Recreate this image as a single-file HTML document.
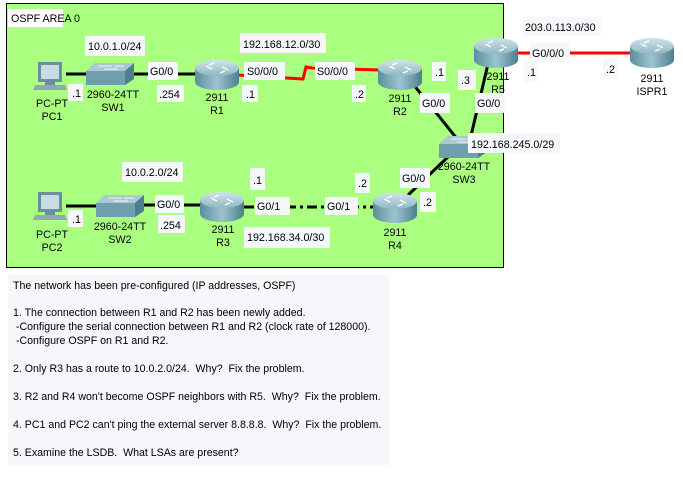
<!DOCTYPE html>
<html><head><meta charset="utf-8"><style>
html,body{margin:0;padding:0;background:#fff;width:683px;height:503px;overflow:hidden}
svg text{font-family:"Liberation Sans",Arial,sans-serif;font-size:10.7px;fill:#000}
.tb{position:absolute;left:8px;top:275px;width:381px;height:190px;background:#f6f7fb;font-family:"Liberation Sans",Arial,sans-serif;font-size:10.6px;color:#000}
.tb div{position:absolute;left:5px;white-space:nowrap}
</style></head><body>
<svg width="683" height="503" style="position:absolute;left:0;top:0">
<defs>
<linearGradient id="rb" x1="0" x2="1" y1="0" y2="0"><stop offset="0" stop-color="#5b8e9c"/><stop offset=".5" stop-color="#9cc4cf"/><stop offset="1" stop-color="#4d7f8d"/></linearGradient>
<linearGradient id="rt" x1="0" x2="0" y1="0" y2="1"><stop offset="0" stop-color="#cfe3ea"/><stop offset="1" stop-color="#8fb7c3"/></linearGradient>
<g id="rtr">
<path d="M-22,-6 L-22,8 A22,8 0 0 0 22,8 L22,-6 Z" fill="url(#rb)"/>
<ellipse cx="0" cy="-6" rx="22" ry="8" fill="url(#rt)"/>
<path d="M-11,-8 l6,3 M11,-4 l-6,-3 M-3,-11 l-5,2 M3,-1 l5,-2" stroke="#fff" stroke-width="1.3"/>
</g>
<g id="sw">
<path d="M-24,-3 L-15,-11 L24,-11 L24,5 L15,11 L-24,11 Z" fill="#6f9fae"/>
<path d="M-24,-3 L-15,-11 L24,-11 L15,-3 Z" fill="#a9c9d3"/>
<path d="M15,-3 L24,-11 L24,5 L15,11 Z" fill="#4f7f8e"/>
<path d="M-12,-8 h14 M-6,-5 h14 M4,-8 h10" stroke="#fff" stroke-width="0.8"/>
</g>
<g id="pc">
<rect x="-12" y="-16" width="24" height="20" fill="#6c8fa0"/>
<rect x="-9" y="-13" width="18" height="14" fill="#c9dce4"/>
<rect x="-5" y="4" width="10" height="3" fill="#6c8fa0"/>
<path d="M-15,7 L15,7 L17,12 L-17,12 Z" fill="#8ea9b6"/>
</g>
</defs>
<rect x="6.5" y="3.5" width="497" height="264" fill="#aaff80" stroke="#000" stroke-width="1"/>
<g stroke="#000" stroke-width="3">
<line x1="66" y1="74" x2="88" y2="74"/><line x1="133" y1="74" x2="197" y2="74"/>
<line x1="66" y1="206" x2="96" y2="206"/><line x1="143" y1="205" x2="202" y2="205"/>
<line x1="413" y1="84" x2="458" y2="140"/><line x1="488" y1="64" x2="470" y2="140"/>
<line x1="450" y1="155" x2="405" y2="198"/>
<line x1="244" y1="207" x2="374" y2="207" stroke-dasharray="10,4,3,4"/>
</g>
<polyline points="238,75 303,79 306,67 312,68 380,70" fill="none" stroke="#f00" stroke-width="3"/>
<line x1="518" y1="53" x2="631" y2="53" stroke="#f00" stroke-width="3"/>
<use href="#pc" x="50" y="78"/><use href="#pc" x="50" y="208"/>
<use href="#sw" x="110" y="74"/><use href="#sw" x="120" y="206"/><use href="#sw" x="463" y="147"/>
<use href="#rtr" x="217" y="74"/><use href="#rtr" x="400" y="74"/><use href="#rtr" x="496" y="52"/>
<use href="#rtr" x="652" y="52"/><use href="#rtr" x="222" y="206"/><use href="#rtr" x="395" y="207"/>
<g fill="#f6f7fb">
<rect x="8" y="9" width="55" height="18" fill="#fff"/>
<rect x="85" y="36" width="60" height="20"/><rect x="148" y="62" width="30" height="18"/>
<rect x="157" y="85" width="27" height="17"/><rect x="68" y="84" width="15" height="17"/>
<rect x="240" y="33" width="86" height="20"/><rect x="244" y="62" width="41" height="18"/>
<rect x="242" y="85" width="16" height="17"/><rect x="315" y="62" width="40" height="18"/>
<rect x="352" y="85" width="14" height="17"/><rect x="432" y="62" width="14" height="19"/>
<rect x="458" y="70" width="18" height="20"/><rect x="420" y="93" width="30" height="20"/>
<rect x="475" y="93" width="30" height="20"/><rect x="523" y="17" width="78" height="19"/>
<rect x="530" y="43" width="40" height="19"/><rect x="524" y="62" width="13" height="20"/>
<rect x="603" y="58" width="15" height="20"/><rect x="468" y="133" width="92" height="20"/>
<rect x="122" y="162" width="61" height="20"/><rect x="155" y="195" width="29" height="18"/>
<rect x="158" y="215" width="27" height="18"/><rect x="68" y="210" width="15" height="17"/>
<rect x="250" y="168" width="15" height="22"/><rect x="255" y="197" width="35" height="18"/>
<rect x="244" y="227" width="86" height="21"/><rect x="325" y="197" width="33" height="18"/>
<rect x="355" y="173" width="15" height="20"/><rect x="400" y="168" width="30" height="20"/>
<rect x="420" y="192" width="16" height="20"/>
</g>
<text x="11" y="22">OSPF AREA 0</text>
<text x="88" y="50">10.0.1.0/24</text><text x="150" y="75">G0/0</text><text x="159" y="98">.254</text>
<text x="72" y="97">.1</text><text x="243" y="48">192.168.12.0/30</text><text x="247" y="75">S0/0/0</text>
<text x="246" y="98">.1</text><text x="317" y="75">S0/0/0</text><text x="355" y="98">.2</text>
<text x="435" y="76">.1</text><text x="461" y="84">.3</text><text x="422" y="107">G0/0</text>
<text x="477" y="107">G0/0</text><text x="525" y="31">203.0.113.0/30</text><text x="532" y="57">G0/0/0</text>
<text x="527" y="76">.1</text><text x="606" y="73">.2</text><text x="471" y="148">192.168.245.0/29</text>
<text x="125" y="176">10.0.2.0/24</text><text x="157" y="208">G0/0</text><text x="160" y="229">.254</text>
<text x="72" y="223">.1</text><text x="253" y="184">.1</text><text x="257" y="210">G0/1</text>
<text x="247" y="241">192.168.34.0/30</text><text x="327" y="210">G0/1</text><text x="358" y="187">.2</text>
<text x="402" y="182">G0/0</text><text x="423" y="206">.2</text>
<g text-anchor="middle">
<text x="52" y="107">PC-PT</text><text x="52" y="120">PC1</text>
<text x="52" y="238">PC-PT</text><text x="52" y="251">PC2</text>
<text x="113" y="98">2960-24TT</text><text x="113" y="111">SW1</text>
<text x="120" y="230">2960-24TT</text><text x="120" y="243">SW2</text>
<text x="464" y="170">2960-24TT</text><text x="464" y="183">SW3</text>
<text x="217" y="101">2911</text><text x="217" y="114">R1</text>
<text x="400" y="102">2911</text><text x="400" y="115">R2</text>
<text x="498" y="80">2911</text><text x="498" y="93">R5</text>
<text x="652" y="82">2911</text><text x="652" y="95">ISPR1</text>
<text x="223" y="233">2911</text><text x="223" y="246">R3</text>
<text x="395" y="236">2911</text><text x="395" y="249">R4</text>
</g>
</svg>
<div class="tb">
<div style="top:5px">The network has been pre-configured (IP addresses, OSPF)</div>
<div style="top:32px">1. The connection between R1 and R2 has been newly added.</div>
<div style="top:46px">&nbsp;-Configure the serial connection between R1 and R2 (clock rate of 128000).</div>
<div style="top:60px">&nbsp;-Configure OSPF on R1 and R2.</div>
<div style="top:88px">2. Only R3 has a route to 10.0.2.0/24.&nbsp; Why?&nbsp; Fix the problem.</div>
<div style="top:116px">3. R2 and R4 won't become OSPF neighbors with R5.&nbsp; Why?&nbsp; Fix the problem.</div>
<div style="top:144px">4. PC1 and PC2 can't ping the external server 8.8.8.8.&nbsp; Why?&nbsp; Fix the problem.</div>
<div style="top:172px">5. Examine the LSDB.&nbsp; What LSAs are present?</div>
</div>
</body></html>
